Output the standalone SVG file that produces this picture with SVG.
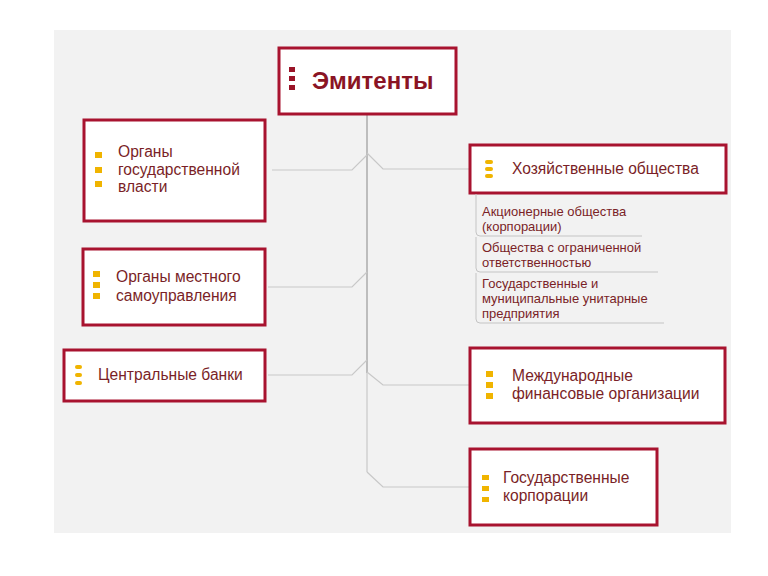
<svg xmlns="http://www.w3.org/2000/svg" width="768" height="576" viewBox="0 0 768 576">
<style>
.box{fill:#fff;stroke:#a8132f;stroke-width:3}
.t{font-family:"Liberation Sans",Arial,sans-serif;font-size:15.6px;fill:#7a1f27}
.s{font-family:"Liberation Sans",Arial,sans-serif;font-size:13px;fill:#7a1f27}
.h{font-family:"Liberation Sans",Arial,sans-serif;font-size:24px;font-weight:bold;fill:#8a1424}
.y{fill:#f0b400}
.r{fill:#9a1428}
.c{fill:none;stroke:#c8c8c8;stroke-width:1.2}
.cd{fill:none;stroke:#999;stroke-width:1.2}
.sub{fill:none;stroke:#c4c4c4;stroke-width:1}
</style>
<rect x="0" y="0" width="768" height="576" fill="#fff"/>
<rect x="54" y="30" width="677" height="503" fill="#f2f2f2"/>
<g id="connectors">
<path class="cd" d="M367,114 V373"/>
<path class="c" d="M367,373 V472"/>
<path class="c" d="M272,170 H352 L367,155"/>
<path class="c" d="M367,153 L383,169 H469"/>
<path class="c" d="M268,287 H352 L367,272"/>
<path class="c" d="M268,375 H352 L367,360"/>
<path class="c" d="M367,372 L383,385 H469"/>
<path class="c" d="M367,472 L383,487 H469"/>
</g>
<g id="emitenty">
<rect class="box" x="279" y="48" width="177" height="66"/>
<rect class="r" x="289" y="67" width="6" height="5"/>
<rect class="r" x="289" y="76" width="6" height="5"/>
<rect class="r" x="289" y="85" width="6" height="5"/>
<text class="h" x="312" y="89">Эмитенты</text>
</g>
<g id="organy-gos">
<rect class="box" x="84" y="120" width="181" height="101"/>
<rect class="y" x="95" y="152" width="7" height="6"/>
<rect class="y" x="95" y="167" width="7" height="6"/>
<rect class="y" x="95" y="181" width="7" height="6"/>
<text class="t" x="118" y="157">Органы</text>
<text class="t" x="118" y="175">государственной</text>
<text class="t" x="118" y="192">власти</text>
</g>
<g id="organy-mest">
<rect class="box" x="83" y="249" width="182" height="76"/>
<rect class="y" x="93" y="271" width="7" height="6"/>
<rect class="y" x="93" y="282" width="7" height="6"/>
<rect class="y" x="93" y="293" width="7" height="6"/>
<text class="t" x="116" y="282">Органы местного</text>
<text class="t" x="116" y="301">самоуправления</text>
</g>
<g id="central-banki">
<rect class="box" x="64" y="350" width="201" height="51"/>
<rect class="y" x="75" y="365" width="7" height="4" rx="2"/>
<rect class="y" x="75" y="373" width="7" height="4" rx="2"/>
<rect class="y" x="75" y="381" width="7" height="4" rx="2"/>
<text class="t" x="98" y="380">Центральные банки</text>
</g>
<g id="hoz-obshchestva">
<rect class="box" x="470" y="145" width="256" height="48"/>
<rect class="y" x="485" y="160" width="8" height="4" rx="2"/>
<rect class="y" x="485" y="167" width="8" height="4" rx="2"/>
<rect class="y" x="485" y="174" width="8" height="4" rx="2"/>
<text class="t" x="512" y="174">Хозяйственные общества</text>
</g>
<g id="hoz-sub">
<path class="sub" d="M476,194 V232 Q476,236 480,236 H642"/>
<path class="sub" d="M476,237 V268 Q476,272 480,272 H658"/>
<path class="sub" d="M476,273 V319 Q476,323 480,323 H664"/>
<text class="s" x="482" y="216">Акционерные общества</text>
<text class="s" x="482" y="231">(корпорации)</text>
<text class="s" x="482" y="252">Общества с ограниченной</text>
<text class="s" x="482" y="267">ответственностью</text>
<text class="s" x="482" y="288">Государственные и</text>
<text class="s" x="482" y="303">муниципальные унитарные</text>
<text class="s" x="482" y="318">предприятия</text>
</g>
<g id="mezhdunarodnye">
<rect class="box" x="470" y="348" width="255" height="75"/>
<rect class="y" x="486" y="371" width="7" height="6"/>
<rect class="y" x="486" y="382" width="7" height="6"/>
<rect class="y" x="486" y="393" width="7" height="6"/>
<text class="t" x="512" y="381">Международные</text>
<text class="t" x="512" y="399">финансовые организации</text>
</g>
<g id="gos-korporacii">
<rect class="box" x="470" y="449" width="187" height="76"/>
<rect class="y" x="482" y="475" width="7" height="5"/>
<rect class="y" x="482" y="486" width="7" height="5"/>
<rect class="y" x="482" y="497" width="7" height="5"/>
<text class="t" x="503" y="483">Государственные</text>
<text class="t" x="503" y="501">корпорации</text>
</g>
</svg>
